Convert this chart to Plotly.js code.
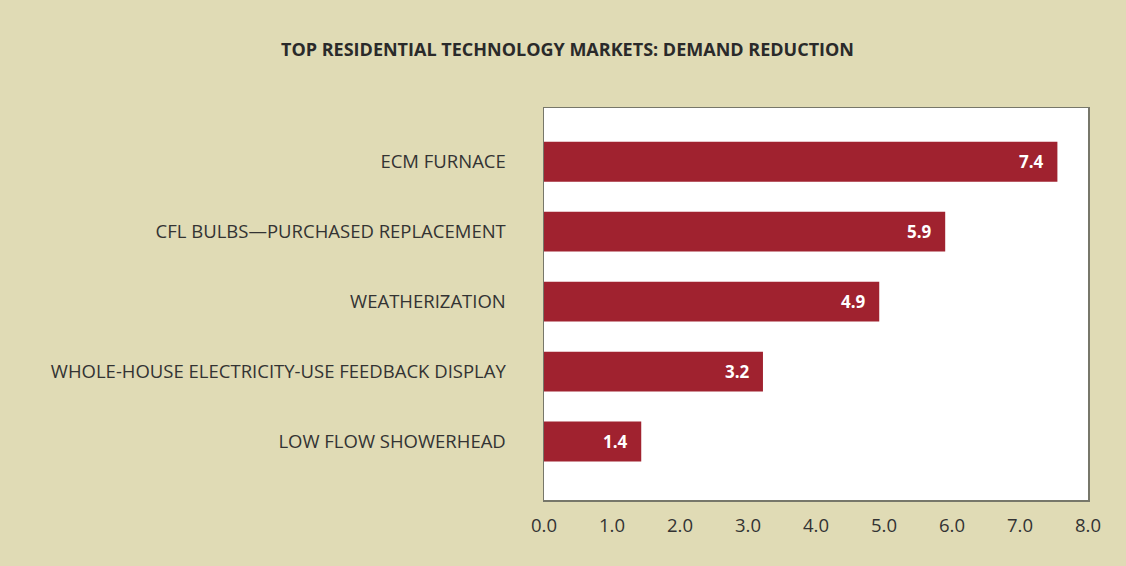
<!DOCTYPE html>
<html>
<head>
<meta charset="utf-8">
<script src="https://cdn.plot.ly/plotly-3.0.1.min.js"></script>
<style>html,body{margin:0;padding:0;background:#e0dbb5;}#chart{width:1126px;height:566px;}</style>
</head>
<body>
<div id="chart"></div>
<script>
const categories = [
  "ECM FURNACE",
  "CFL BULBS\u2014PURCHASED REPLACEMENT",
  "WEATHERIZATION",
  "WHOLE-HOUSE ELECTRICITY-USE FEEDBACK DISPLAY",
  "LOW FLOW SHOWERHEAD"
];
const values = [7.55, 5.9, 4.93, 3.22, 1.43];
const valueLabels = ["7.4", "5.9", "4.9", "3.2", "1.4"];
const xTickVals = [0, 1, 2, 3, 4, 5, 6, 7, 8];
const xTickText = ["0.0", "1.0", "2.0", "3.0", "4.0", "5.0", "6.0", "7.0", "8.0"];

const FONT = "Open Sans, Noto Sans, sans-serif";

const trace = {
  type: "bar",
  orientation: "h",
  x: values,
  y: categories,
  marker: {color: "#a0222f", line: {width: 0}},
  width: 0.57,
  hoverinfo: "none"
};

const annotations = values.map((v, i) => ({
  x: v, y: categories[i], xref: "x", yref: "y",
  text: "<b>" + valueLabels[i] + "</b>",
  showarrow: false, xanchor: "right", xshift: -11,
  font: {family: FONT, size: 17, color: "#ffffff"}
}));

const layout = {
  width: 1126, height: 566,
  paper_bgcolor: "#e0dbb5",
  plot_bgcolor: "#ffffff",
  margin: {l: 544, r: 38, t: 108, b: 66, autoexpand: false},
  showlegend: false,
  title: {
    text: "<b>TOP RESIDENTIAL TECHNOLOGY MARKETS: DEMAND REDUCTION</b>",
    font: {family: FONT, size: 18, color: "#2a2a2a"},
    x: 567.5/1126, xref: "container", xanchor: "center",
    y: 1 - 50/566, yref: "container", yanchor: "middle"
  },
  xaxis: {
    range: [0, 8], tickvals: xTickVals, ticktext: xTickText,
    showgrid: false, zeroline: false,
    showline: true, mirror: true, linecolor: "#77776a", linewidth: 1.5,
    ticks: "", ticklabelstandoff: 8,
    tickfont: {family: FONT, size: 18.5, color: "#333333"},
    fixedrange: true
  },
  yaxis: {
    type: "category",
    categoryorder: "array", categoryarray: categories,
    range: [4.836, -0.768],
    showgrid: false, zeroline: false,
    showline: true, mirror: true, linecolor: "#77776a", linewidth: 1.5,
    ticks: "", ticklabelstandoff: 33,
    tickfont: {family: FONT, size: 18.5, color: "#333333"},
    fixedrange: true
  },
  annotations: annotations
};

Plotly.newPlot("chart", [trace], layout, {displayModeBar: false, staticPlot: true});
</script>
</body>
</html>
